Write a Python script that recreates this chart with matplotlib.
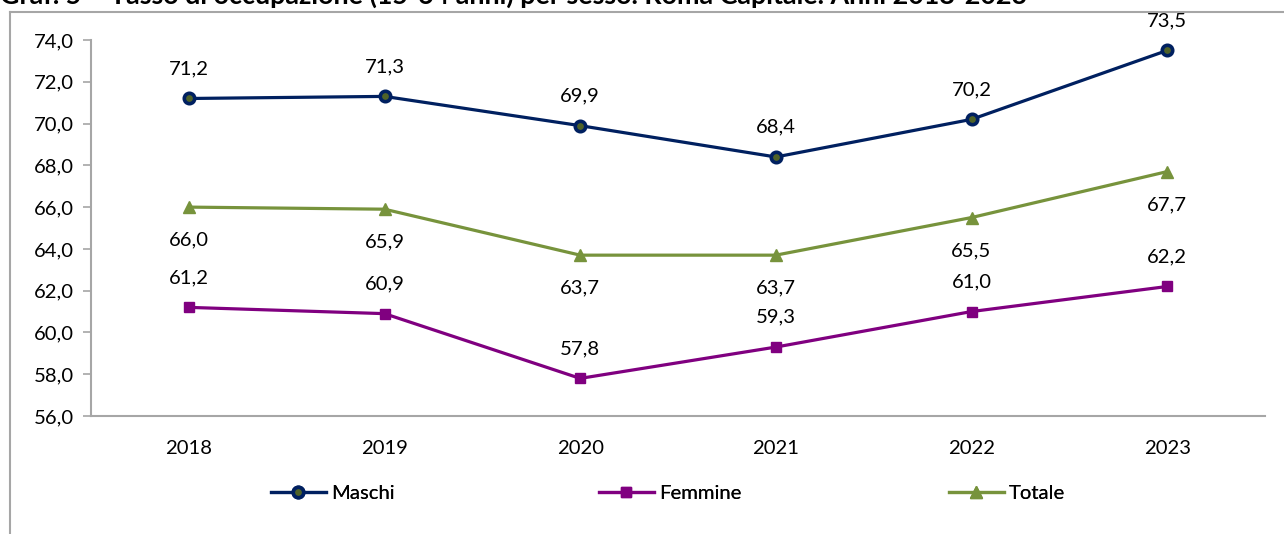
import matplotlib
matplotlib.use("Agg")
import matplotlib.pyplot as plt
from matplotlib.lines import Line2D

years = ["2018", "2019", "2020", "2021", "2022", "2023"]
maschi = [71.2, 71.3, 69.9, 68.4, 70.2, 73.5]
femmine = [61.2, 60.9, 57.8, 59.3, 61.0, 62.2]
totale = [66.0, 65.9, 63.7, 63.7, 65.5, 67.7]
yticks = [56, 58, 60, 62, 64, 66, 68, 70, 72, 74]

plt.rcParams['font.family'] = ['Lato', 'DejaVu Sans']

W, H = 1284, 534
fig = plt.figure(figsize=(W / 100, H / 100), dpi=100)

def px(x0, y0, x1, y1):
    return [x0 / W, 1 - y1 / H, (x1 - x0) / W, (y1 - y0) / H]

# outer chart border (top and left edges visible)
fig.add_artist(Line2D([9.5 / W, 9.5 / W], [0, 1 - 12 / H], transform=fig.transFigure,
                      color='#A6A6A6', lw=1.5))
fig.add_artist(Line2D([9.5 / W, 1], [1 - 12 / H, 1 - 12 / H], transform=fig.transFigure,
                      color='#A6A6A6', lw=1.5))

fig.text(0 / W, 1 - 4 / H, "Graf. 5 – Tasso di occupazione (15-64 anni) per sesso. Roma Capitale. Anni 2018-2023",
         fontsize=19.4, fontweight='bold', ha='left', va='baseline', color='black')

ax = fig.add_axes(px(91, 40, 1265, 416))
x = list(range(len(years)))

c_m = '#002060'
c_f = '#800080'
c_t = '#77933C'

lm, = ax.plot(x, maschi, color=c_m, lw=2.3, marker='o', ms=7.5, mfc='#4F6228', mec=c_m, mew=2.6,
              label='Maschi', zorder=3)
lf, = ax.plot(x, femmine, color=c_f, lw=2.3, marker='s', ms=7.5, mfc=c_f, mec=c_f, label='Femmine', zorder=3)
lt, = ax.plot(x, totale, color=c_t, lw=2.3, marker='^', ms=8, mfc=c_t, mec=c_t, label='Totale', zorder=3)

def fmt(v):
    return f"{v:.1f}".replace('.', ',')

fs = 14.6
for xi, v in zip(x, maschi):
    ax.annotate(fmt(v), (xi, v), xytext=(0, 21.6), textcoords='offset points', ha='center', va='center', fontsize=fs)
for xi, v in zip(x, femmine):
    ax.annotate(fmt(v), (xi, v), xytext=(0, 21.6), textcoords='offset points', ha='center', va='center', fontsize=fs)
for xi, v in zip(x, totale):
    ax.annotate(fmt(v), (xi, v), xytext=(0, -23.8), textcoords='offset points', ha='center', va='center', fontsize=fs)

ax.set_xlim(-0.5, len(years) - 0.5)
ax.set_ylim(56, 74)
ax.set_yticks(yticks)
ax.set_yticklabels([fmt(t) for t in yticks], fontsize=fs)
ax.set_xticks(x)
ax.set_xticklabels(years, fontsize=fs)
ax.tick_params(axis='x', length=0, pad=17)
ax.tick_params(axis='y', length=6, width=1.2, color='#A6A6A6', pad=6)
for s in ['top', 'right']:
    ax.spines[s].set_visible(False)
for s in ['left', 'bottom']:
    ax.spines[s].set_color('#A6A6A6')
    ax.spines[s].set_linewidth(1.5)

# legend entries placed individually
for h, xs in [(lm, 271), (lf, 599), (lt, 949)]:
    leg = fig.legend(handles=[h], loc='center left', bbox_to_anchor=(xs / W, 1 - 493 / H), frameon=False,
                     fontsize=fs, handlelength=2.7, handletextpad=0.25, borderpad=0, borderaxespad=0)
    fig.add_artist(leg)

fig.savefig("out.png", dpi=100)
